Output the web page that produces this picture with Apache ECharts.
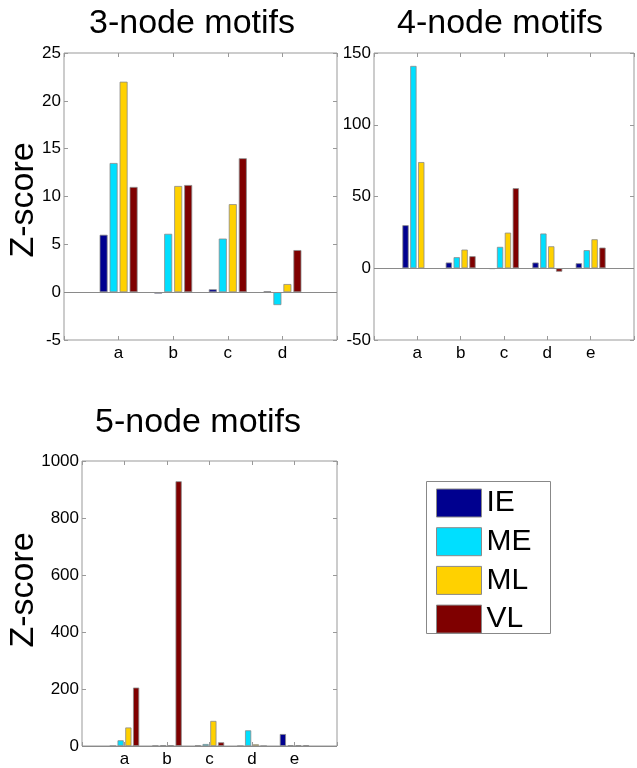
<!DOCTYPE html>
<html>
<head>
<meta charset="utf-8">
<script src="https://cdn.jsdelivr.net/npm/echarts@6/dist/echarts.min.js"></script>
<style>
  html, body { margin: 0; padding: 0; background: #fff; }
  #main { width: 637px; height: 768px; }
</style>
</head>
<body>
<div id="main"></div>
<script>
// group names + colours (matlab jet-ish)
const groups = ["IE", "ME", "ML", "VL"];
const colors = ["#00008f", "#00dfff", "#ffd100", "#7f0000"];

// 3-node motifs
const cats3 = ["a", "b", "c", "d"];
const ie3 = [6.0, -0.15, 0.3, 0.1];
const me3 = [13.5, 6.1, 5.6, -1.35];
const ml3 = [22.0, 11.1, 9.2, 0.85];
const vl3 = [11.0, 11.2, 14.0, 4.4];
const ticks3 = [-5, 0, 5, 10, 15, 20, 25];

// 4-node motifs
const cats4 = ["a", "b", "c", "d", "e"];
const ie4 = [30, 4, -0.5, 4, 3.5];
const me4 = [141, 7.7, 14.9, 24.2, 12.6];
const ml4 = [74, 13, 24.8, 15.3, 20.2];
const vl4 = [null, 8.4, 55.8, -2.4, 14.4];
const ticks4 = [-50, 0, 50, 100, 150];

// 5-node motifs
const cats5 = ["a", "b", "c", "d", "e"];
const ie5 = [0, 1, 2, 0, 42];
const me5 = [20, 3, 7, 55, 3];
const ml5 = [65, 3, 88, 6, 3];
const vl5 = [205, 929, 13, 0, 3];
const ticks5 = [0, 200, 400, 600, 800, 1000];

const sans = '"Liberation Sans", Arial, sans-serif';
const tickColor = "#999";

const grids = [
  { left: 64, top: 53, width: 273, height: 287 },
  { left: 374, top: 53, width: 266, height: 287 },
  { left: 82, top: 461, width: 255, height: 285 }
];
const charts = [
  { cats: cats3, vals: [ie3, me3, ml3, vl3], ticks: ticks3, barW: 8, font: 17 },
  { cats: cats4, vals: [ie4, me4, ml4, vl4], ticks: ticks4, barW: 6.3, font: 17 },
  { cats: cats5, vals: [ie5, me5, ml5, vl5], ticks: ticks5, barW: 6.2, font: 17 }
];

const tick = { inside: true, length: 4, lineStyle: { color: tickColor } };
const noLine = { show: false, onZero: false };

let xAxes = [], yAxes = [], series = [];
charts.forEach((c, k) => {
  let n = c.cats.length + 1;
  let yMin = c.ticks[0], yMax = c.ticks[c.ticks.length - 1];
  let yInt = c.ticks[1] - c.ticks[0];
  // bottom axis with labels, top axis just ticks
  xAxes.push({
    type: "value", gridIndex: k, min: 0, max: n, interval: 1, position: "bottom",
    axisLine: noLine, splitLine: { show: false }, axisTick: tick,
    axisLabel: {
      margin: 5, color: "#000", fontSize: c.font, fontFamily: sans,
      formatter: v => c.cats[v - 1] || ""
    }
  });
  xAxes.push({
    type: "value", gridIndex: k, min: 0, max: n, interval: 1, position: "top",
    axisLine: noLine, splitLine: { show: false }, axisLabel: { show: false }, axisTick: tick
  });
  yAxes.push({
    type: "value", gridIndex: k, min: yMin, max: yMax, interval: yInt, position: "left",
    axisLine: noLine, splitLine: { show: false }, axisTick: Object.assign({ show: true }, tick),
    axisLabel: { margin: 3, color: "#000", fontSize: c.font, fontFamily: sans, formatter: v => String(v) }
  });
  yAxes.push({
    type: "value", gridIndex: k, min: yMin, max: yMax, interval: yInt, position: "right",
    axisLine: noLine, splitLine: { show: false }, axisLabel: { show: false },
    axisTick: Object.assign({ show: true }, tick)
  });
  groups.forEach((g, j) => {
    let s = {
      name: g, type: "bar", xAxisIndex: k * 2, yAxisIndex: k * 2,
      barWidth: c.barW, barGap: "25%",
      data: c.vals[j].map((v, i) => [i + 1, v]),
      itemStyle: { color: colors[j], borderColor: "#8a8a8a", borderWidth: 0.8 },
      emphasis: { disabled: true }
    };
    if (j === 0) {
      s.markLine = {
        silent: true, symbol: "none", label: { show: false },
        lineStyle: { color: "#8a8a8a", width: 1, type: "solid" },
        data: [{ yAxis: 0 }]
      };
    }
    series.push(s);
  });
});

function label(text, x, y, rot) {
  return {
    type: "text", x: x, y: y, rotation: rot || 0,
    style: {
      text: text, fill: "#000", font: "34px " + sans,
      textAlign: "center", textVerticalAlign: "middle"
    }
  };
}

const chart = echarts.init(document.getElementById("main"));
chart.setOption({
  animation: false,
  grid: grids.map(g => Object.assign({
    show: true, borderColor: "#999", borderWidth: 1, backgroundColor: "transparent"
  }, g)),
  xAxis: xAxes,
  yAxis: yAxes,
  legend: {
    orient: "vertical", left: 436, top: 488, padding: 0,
    itemWidth: 45, itemHeight: 28, itemGap: 8.7, itemStyle: { borderColor: "#8a8a8a", borderWidth: 1 },
    icon: "rect", selectedMode: false,
    textStyle: { fontSize: 30, lineHeight: 28, color: "#000", fontFamily: sans },
    data: groups
  },
  graphic: [
    label("3-node motifs", 192, 24),
    label("4-node motifs", 500, 24),
    label("5-node motifs", 198, 423),
    label("Z-score", 24, 200, Math.PI / 2),
    label("Z-score", 24, 590, Math.PI / 2),
    {
      type: "rect", shape: { x: 426.5, y: 481.5, width: 124, height: 152 },
      style: { fill: "none", stroke: "#888", lineWidth: 1 }
    }
  ],
  series: series
});
</script>
</body>
</html>
